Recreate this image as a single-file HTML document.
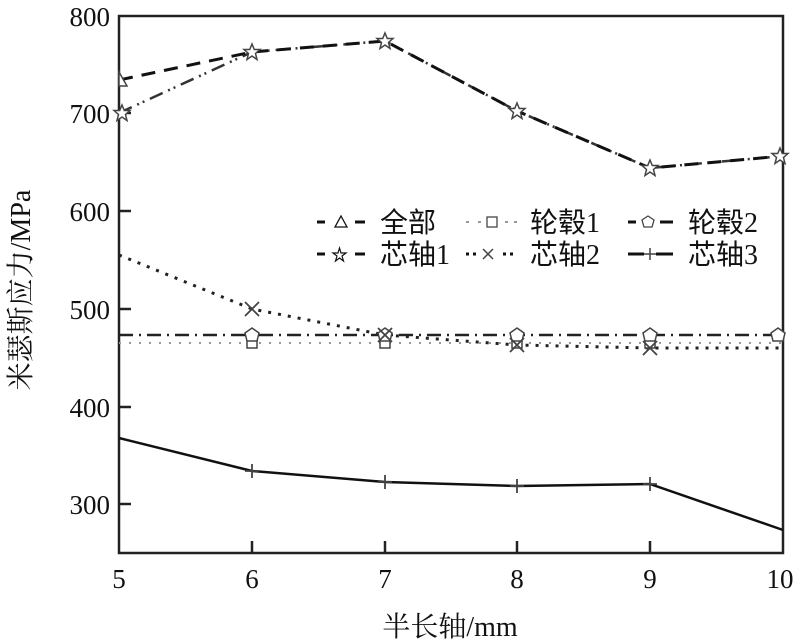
<!DOCTYPE html>
<html><head><meta charset="utf-8"><style>body{margin:0;background:#fff}svg{display:block}</style></head>
<body>
<svg width="800" height="644" xmlns="http://www.w3.org/2000/svg" font-family="'Liberation Serif','Noto Serif CJK SC',serif">
<defs>
<polygon id="st" points="0,-8 2.3,-2.5 8,-2.5 3.5,1.5 5,7.5 0,4 -5,7.5 -3.5,1.5 -8,-2.5 -2.3,-2.5"/>
<polygon id="pt" points="0,-7 7,-2 5,6 -5,6 -7,-2"/>
</defs>
<rect x="119" y="16" width="664" height="537" fill="none" stroke="#222" stroke-width="2.5"/>
<g stroke="#222" stroke-width="2.5">
<line x1="119" y1="113" x2="131" y2="113"/><line x1="119" y1="211" x2="131" y2="211"/><line x1="119" y1="309" x2="131" y2="309"/><line x1="119" y1="407" x2="131" y2="407"/><line x1="119" y1="504" x2="131" y2="504"/>
<line x1="252" y1="553" x2="252" y2="541"/><line x1="385" y1="553" x2="385" y2="541"/><line x1="517" y1="553" x2="517" y2="541"/><line x1="650" y1="553" x2="650" y2="541"/>
</g>
<g font-size="27" fill="#111" text-anchor="end">
<text x="110" y="26">800</text><text x="110" y="123">700</text><text x="110" y="221">600</text><text x="110" y="319">500</text><text x="110" y="417">400</text><text x="110" y="514">300</text>
</g>
<g font-size="27" fill="#111" text-anchor="middle">
<text x="119" y="588">5</text><text x="252" y="588">6</text><text x="385" y="588">7</text><text x="517" y="588">8</text><text x="650" y="588">9</text><text x="780" y="588">10</text>
<text x="450" y="636" font-size="28">半长轴/mm</text>
<text transform="translate(30,290) rotate(-90)" font-size="28">米瑟斯应力/MPa</text>
</g>
<g fill="none">
<polyline points="119,343 252,343 385,343 517,343 650,343 783,343" stroke="#999" stroke-width="2" stroke-dasharray="2,8"/>
<polyline points="119,335 252,335 385,335 517,335 650,335 783,335" stroke="#222" stroke-width="2.5" stroke-dasharray="14,6,2,6"/>
<polyline points="119,255 252,309 385,335 517,345 650,348 783,348" stroke="#222" stroke-width="3" stroke-dasharray="3,7"/>
<polyline points="119,438 252,471 385,482 517,486 650,484 783,530" stroke="#111" stroke-width="2.5"/>
<polyline points="119,113 252,52 385,41 517,111 650,168 783,156" stroke="#333" stroke-width="2.5" stroke-dasharray="14,6,2,4,2,6"/>
<polyline points="119,80 252,52 385,41 517,111 650,168 783,156" stroke="#111" stroke-width="3" stroke-dasharray="14,9"/>
</g>
<g fill="#fff" stroke="#444" stroke-width="1.5">
<polygon points="119,72 127,86 119,86"/>
<use href="#st" x="252" y="52"/><use href="#st" x="385" y="41"/><use href="#st" x="517" y="111"/><use href="#st" x="650" y="168"/><use href="#st" x="122" y="113"/><use href="#st" x="780" y="156"/>
<rect x="247" y="338" width="10" height="10"/><rect x="380" y="338" width="10" height="10"/><rect x="512" y="338" width="10" height="10"/><rect x="645" y="338" width="10" height="10"/>
<use href="#pt" x="252" y="335"/><use href="#pt" x="385" y="335"/><use href="#pt" x="517" y="335"/><use href="#pt" x="650" y="335"/><use href="#pt" x="778" y="335"/>
</g>
<g stroke="#444" stroke-width="1.8">
<path d="M245,302l14,14M259,302l-14,14M378,328l14,14M392,328l-14,14M510,338l14,14M524,338l-14,14M643,341l14,14M657,341l-14,14"/>
<path d="M252,464v14M245,471h14M385,475v14M378,482h14M517,479v14M510,486h14M650,477v14M643,484h14"/>
</g>
<g font-size="28" fill="#111" font-family="'Liberation Serif','Noto Sans CJK SC',serif">
<text x="380" y="232">全部</text><text x="530" y="232">轮毂1</text><text x="688" y="232">轮毂2</text>
<text x="380" y="264">芯轴1</text><text x="530" y="264">芯轴2</text><text x="688" y="264">芯轴3</text>
</g>
<g fill="none" stroke="#111" stroke-width="3">
<path d="M317,222h8M355,222h10" /><polygon points="341,216 347,227 335,227" stroke-width="1.3" fill="#fff"/>
<path d="M466,222h3M478,222h3M505,222h3M514,222h3" stroke="#999" stroke-width="2"/><rect x="487" y="217" width="10" height="10" stroke-width="1.3" stroke="#444"/>
<path d="M628,222h8M660,222h13"/><polygon points="648,216 654,220 652,227 644,227 642,220" stroke-width="1.3" stroke="#444" fill="#fff"/>
<path d="M317,254h8M355,254h10"/><path d="M333,254l1.5,-5 1.5,5 5,0 -4,3 1.5,5 -4,-3 -4,3 1.5,-5 -4,-3z" stroke-width="1.2" transform="translate(5,-1)" fill="#fff"/>
<path d="M466,254h3M473,254h3M503,254h3M510,254h3" stroke-width="3"/><path d="M483,249l10,10M493,249l-10,10" stroke-width="1.5" stroke="#444"/>
<path d="M628,254h16M656,254h17"/><path d="M650,248v12M644,254h12" stroke-width="1.5" stroke="#444"/>
</g>
</svg>
</body></html>
